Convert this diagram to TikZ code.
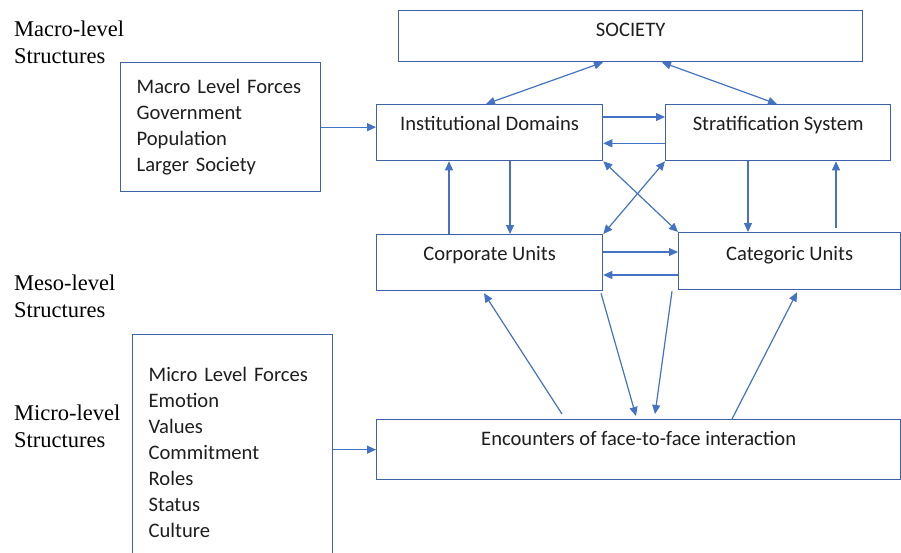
\documentclass[tikz,border=0pt]{standalone}
\usepackage{fontspec}
\setmainfont{Carlito}
\newfontfamily\levelfont{Liberation Serif}
\usetikzlibrary{arrows.meta,positioning}
\definecolor{boxblue}{RGB}{62,98,170}
\definecolor{arrowblue}{RGB}{68,114,196}
\definecolor{ink}{RGB}{30,30,30}

\begin{document}
\begin{tikzpicture}[
  x=1pt, y=-1pt,
  font=\fontsize{20.6}{26}\selectfont, text=ink,
  >={Triangle[length=9pt,width=8pt]},
  box/.style={draw=boxblue, line width=1.3pt, inner sep=0pt, text height=26pt, text depth=#1, anchor=north west},
  box/.default=30pt,
  forces/.style={draw=boxblue, line width=1.3pt, align=left, inner xsep=16pt, text width=168pt, anchor=north west},
  level/.style={font=\levelfont\fontsize{22.5}{27}\selectfont, align=left, inner sep=0pt, anchor=north west, text=black},
  arrow/.style={->, draw=arrowblue, line width=1.2pt}
]
\clip (0,0) rectangle (901,552);

\node[level] (macrolbl) at (14,21) {Macro-level\\Structures};
\node[level] (mesolbl) at (14,275) {Meso-level\\Structures};
\node[level] (microlbl) at (14,405) {Micro-level\\Structures};

\node[box=25pt, minimum width=464pt] (soc) at (398,10) {SOCIETY};
\node[box, minimum width=226pt] (inst) at (376,104) {Institutional Domains};
\node[box, minimum width=225pt] (strat) at (665,104) {Stratification System};
\node[box, minimum width=226pt] (corp) at (376,234) {Corporate Units};
\node[box=29pt, minimum width=222pt, text height=28pt] (cat) at (678,232) {Categoric Units};
\node[box=34pt, minimum width=524pt] (enc) at (376,419) {Encounters of face-to-face interaction};

% forces acting from outside the levels
\node[forces, minimum height=129pt] (macro) at (120,62) {Macro Level Forces\\Government\\Population\\Larger Society};
\node[forces, minimum height=235pt] (micro) at (132,334) {Micro Level Forces\\Emotion\\Values\\Commitment\\Roles\\Status\\Culture};

\draw[arrow, <->] ([xshift=205pt]soc.south west) -- ([xshift=110pt]inst.north west);
\draw[arrow, <->] ([xshift=264pt]soc.south west) -- ([xshift=112pt]strat.north west);
\draw[arrow] ([yshift=-13pt]inst.north east) -- ([yshift=-13pt]strat.north west);
\draw[arrow] ([yshift=18pt]strat.south west) -- ([yshift=18pt]inst.south east);
\draw[arrow] (macro.east) -- (macro.east -| inst.west);

\draw[arrow] ([xshift=73pt]corp.north west) -- ([xshift=73pt]inst.south west);
\draw[arrow] ([xshift=134pt]inst.south west) -- ([xshift=134pt]corp.north west);
\draw[arrow] ([xshift=83pt]strat.south west) -- ([xshift=70pt]cat.north west);
\draw[arrow] ([xshift=158pt,yshift=4pt]cat.north west) -- ([xshift=171pt]strat.south west);
\draw[arrow, <->] (inst.south east) -- (cat.north west);
\draw[arrow, <->] (strat.south west) -- (corp.north east);

\draw[arrow] ([yshift=-18pt]corp.north east) -- ([yshift=-20pt]cat.north west);
\draw[arrow] ([yshift=-43pt]cat.north west) -- ([yshift=-41pt]corp.north east);

\draw[arrow] ([xshift=186pt,yshift=5pt]enc.north west) -- ([xshift=108pt,yshift=-2pt]corp.south west);
\draw[arrow] ([xshift=225pt,yshift=-2pt]corp.south west) -- ([xshift=260pt,yshift=3pt]enc.north west);
\draw[arrow] ([xshift=-6pt,yshift=-1pt]cat.south west) -- ([xshift=279pt,yshift=5pt]enc.north west);
\draw[arrow] ([xshift=356pt]enc.north west) -- ([xshift=119pt,yshift=-2pt]cat.south west);
\draw[arrow] (enc.west -| micro.east) -- (enc.west);
\end{tikzpicture}
\end{document}
